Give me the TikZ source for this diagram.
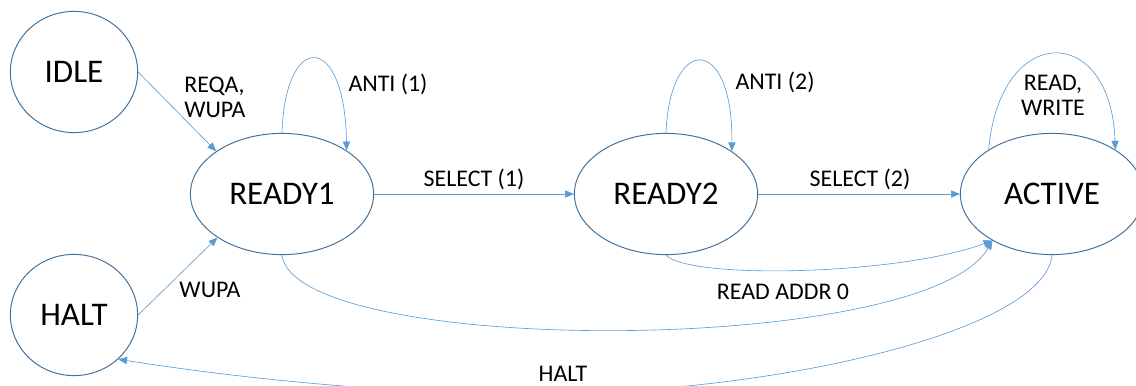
\documentclass[tikz,border=0pt]{standalone}
\usepackage{fontspec}
\setmainfont{Carlito}
\usepackage{tikz}
\usetikzlibrary{shapes,arrows.meta}
\definecolor{stroke}{HTML}{41719C}
\definecolor{wire}{HTML}{5B9BD5}

\begin{document}
\begin{tikzpicture}[x=0.025cm,y=-0.025cm]
    \tikzstyle{state}=[
      ellipse,
      draw=stroke,
      line width=0.7pt,
      inner sep=0pt,
      minimum width=4.58cm,
      minimum height=3.03cm,
      font=\fontsize{23.5}{28}\selectfont,
    ]
    \tikzstyle{sstate}=[
      state,
      minimum width=3.18cm,
    ]
    \tikzstyle{dedge}=[draw=wire,line width=0.45pt,-{Triangle[length=2.2mm,width=1.8mm]}]
    \tikzstyle{lbl}=[inner sep=0pt,font=\fontsize{17}{18}\selectfont]

    \useasboundingbox (0,0) rectangle (1136,386);

    {
      \node[sstate] (idle) at (74,72) {IDLE};
      \node[sstate] (halt) at (74,315) {HALT};
      \node[state] (ready1) at (282,194) {READY1};
      \node[state] (ready2) at (666,194) {READY2};
      \node[state] (active) at (1052,194) {ACTIVE};
    }

    {
      \node[lbl,align=left,anchor=west] (lreqa) at (184,97) {REQA,\\WUPA};
      \node[lbl,anchor=base] (lwupa) at (210,298) {WUPA};
      \node[lbl,anchor=base] (lanti1) at (388,92) {ANTI (1)};
      \node[lbl,anchor=base] (lanti2) at (775,90) {ANTI (2)};
      \node[lbl,anchor=base] (lsel1) at (474,187) {SELECT (1)};
      \node[lbl,anchor=base] (lsel2) at (860,187) {SELECT (2)};
      \node[lbl,align=center] (lrw) at (1053,95) {READ,\\WRITE};
      \node[lbl,anchor=base] (laddr) at (783,299) {READ ADDR 0};
      \node[lbl,anchor=base] (lhalt) at (563,381) {HALT};
    }

    {
      \coordinate (hlow) at (530,394);

      \draw[dedge] (idle.east)--(ready1.147);
      \draw[dedge] (halt.east)--(ready1.214);
      \draw[dedge] (ready1.north) .. controls (285,31) and (345,31) .. (ready1.34);
      \draw[dedge] (ready2.north) .. controls (670,34) and (733,34) .. (ready2.33);
      \draw[dedge] (active.145) .. controls (1000,22) and (1111,22) .. (active.35);

      \draw[dedge] (ready1.east)--(ready2.west);
      \draw[dedge] (ready2.east)--(active.west);

      \draw[dedge] (ready2.south) .. controls (690,280) and (900,275) .. (active.218);
      \draw[dedge] (ready1.south) .. controls (295,357) and (926,357) .. (active.218);

      \draw[draw=wire,line width=0.45pt] (active.south) .. controls (1045,330) and (780,394) .. (hlow);
      \draw[dedge] (hlow) .. controls (400,394) and (250,380) .. (halt.-45);
    }
\end{tikzpicture}
\end{document}
